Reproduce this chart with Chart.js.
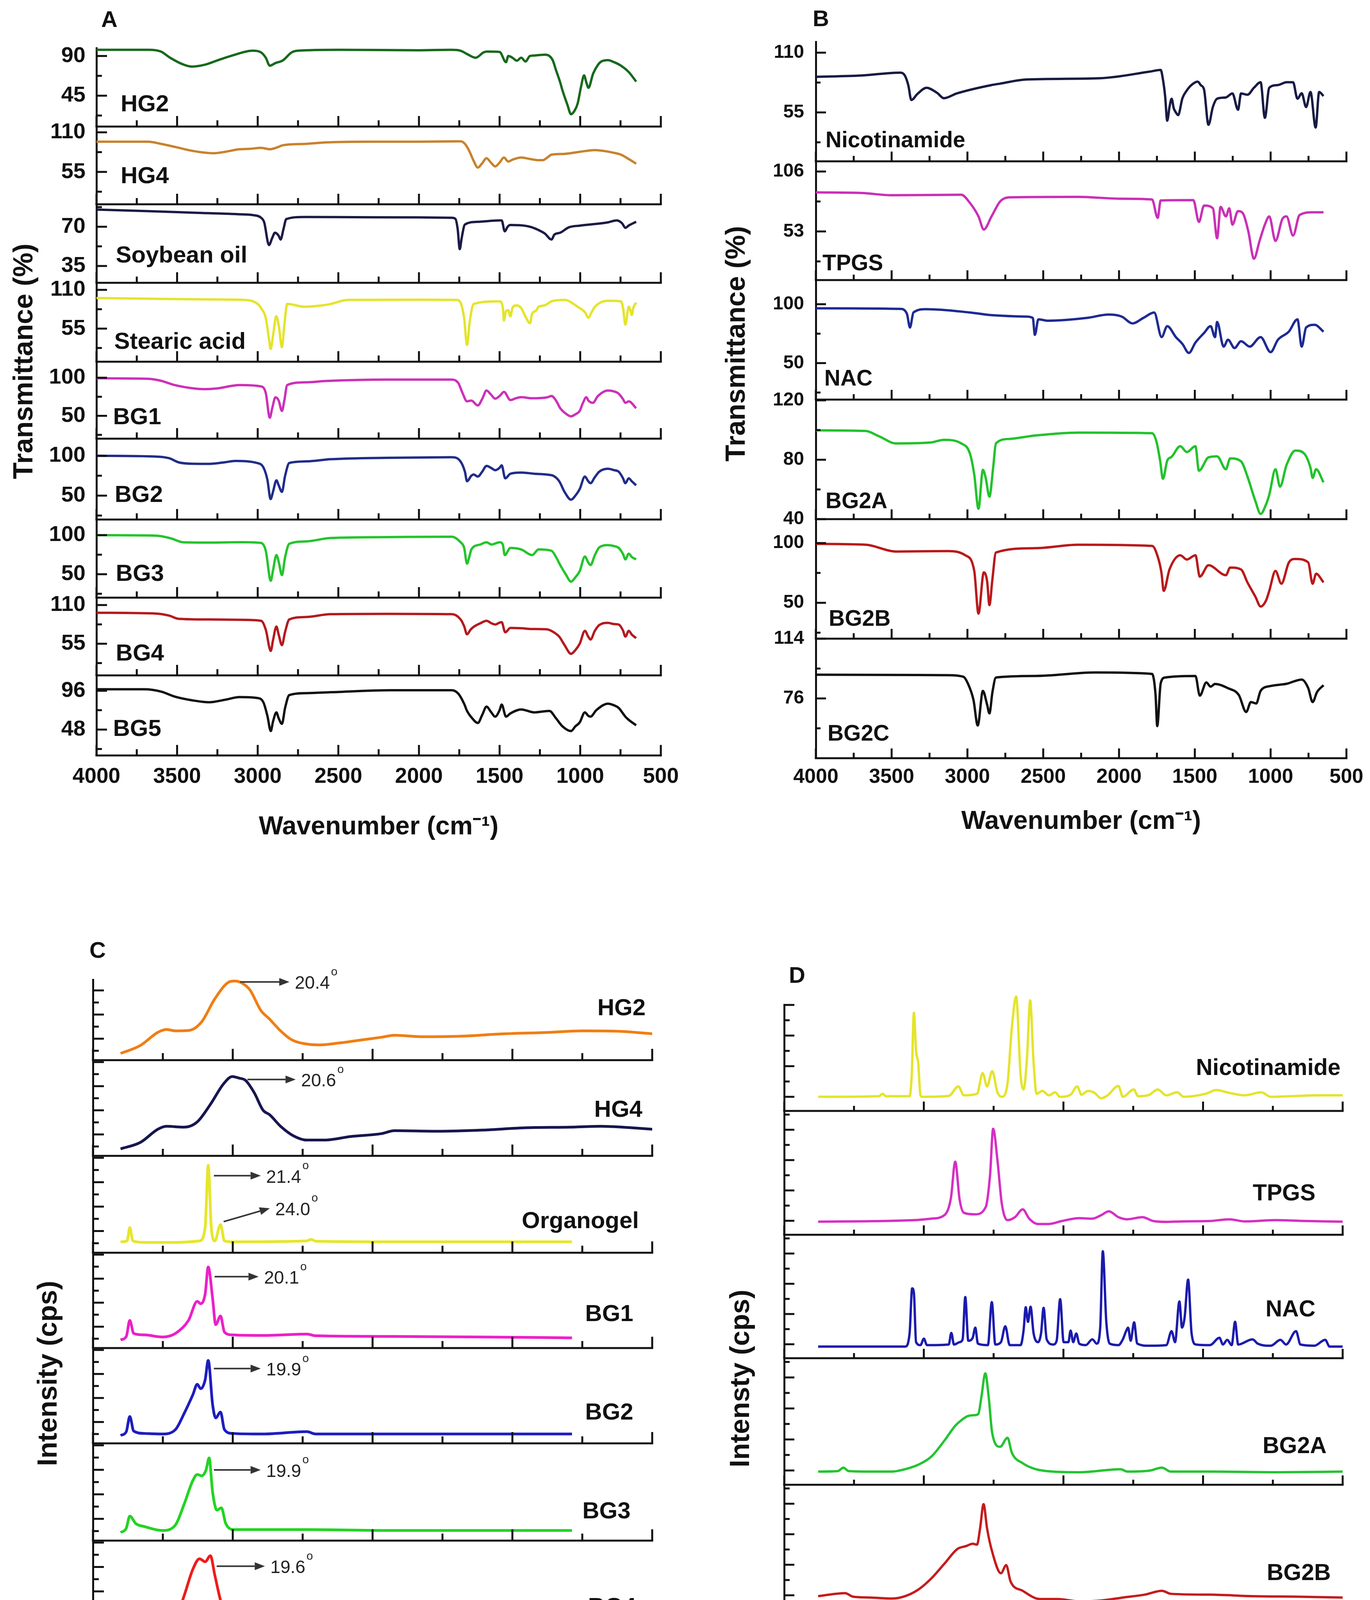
<!DOCTYPE html>
<html>
<head>
<meta charset="utf-8">
<script src="https://cdn.jsdelivr.net/npm/chart.js@4.4.1/dist/chart.umd.min.js"></script>
<style>
html, body { margin: 0; padding: 0; background: #fff; }
body { width: 3508px; height: 4673px; position: relative; overflow: hidden; }
.panel { position: absolute; }
</style>
</head>
<body>
<div class="panel" style="left:0;top:0;width:1760px;height:2230px"><canvas id="chartA"></canvas></div>
<div class="panel" style="left:1760px;top:0;width:1748px;height:2230px"><canvas id="chartB"></canvas></div>
<div class="panel" style="left:0;top:2330px;width:1760px;height:2343px"><canvas id="chartC"></canvas></div>
<div class="panel" style="left:1760px;top:2330px;width:1748px;height:2343px"><canvas id="chartD"></canvas></div>
<script>
// ---------- A: FTIR of gels and ingredients, [wavenumber, transmittance %] ----------
const namesA = ['HG2', 'HG4', 'Soybean oil', 'Stearic acid', 'BG1', 'BG2', 'BG3', 'BG4', 'BG5'];
const aHG2 = [[4000,97],[3677,97],[3600,95],[3543,88],[3470,81],[3409,78],[3330,80],[3250,85],[3150,91],[3032,96],[2979,94],[2950,88],[2925,79],[2890,82],[2844,85],[2790,94],[2750,96],[2500,97],[2000,96.5],[1800,97],[1742,96],[1700,92],[1648,88],[1600,94],[1580,95],[1500,94.6],[1460,83],[1446,90],[1420,88],[1393,84.7],[1366,88],[1339,83.8],[1312,90],[1285,90.5],[1258,91],[1218,91.5],[1191,90],[1170,85],[1151,74.5],[1124,60],[1110,51],[1080,35],[1057,24],[1035,28],[1016,36],[995,55],[976,68],[962,60],[949,54],[920,70],[890,80],[869,83.8],[828,85.3],[790,83],[747,79],[700,72],[653,61]];
const aHG4 = [[4000,97],[3680,97],[3600,94],[3500,89],[3400,84],[3274,81],[3200,83],[3113,86.5],[3050,87],[2979,88.4],[2925,86.5],[2880,89],[2844,92],[2700,94],[2575,96],[2300,97],[2000,97],[1742,97.5],[1715,94],[1690,85],[1660,70],[1635,61],[1608,67],[1581,74],[1554,68],[1527,62.6],[1500,68],[1473,75],[1446,69.4],[1420,72],[1366,75],[1312,73],[1258,71.3],[1231,71.3],[1204,75],[1178,78.9],[1100,80],[1000,83],[909,85.3],[850,84],[800,82],[747,78.9],[700,73],[653,66.4]];
const aSoy = [[4000,85.3],[3700,84],[3400,82.5],[3100,81],[3032,80.4],[2979,78],[2960,74],[2930,53.7],[2910,60],[2893,64.7],[2870,62],[2858,58.6],[2840,68],[2823,76.8],[2710,78.7],[2400,78.5],[2000,78.3],[1796,78],[1774,77],[1760,68],[1747,50],[1735,60],[1715,72],[1635,74.4],[1500,75.6],[1487,75.6],[1468,65.9],[1450,70],[1433,71.5],[1339,70.8],[1300,69.5],[1258,67],[1220,64],[1178,58.6],[1160,63],[1124,64.7],[1070,69.5],[1000,71],[828,73.9],[774,75.6],[740,73],[720,69],[700,71],[653,74.4]];
const aStearic = [[4000,98.4],[3700,97.5],[3300,96.5],[3086,95.7],[3000,90],[2979,84],[2950,70],[2930,40],[2920,26],[2905,45],[2885,72.4],[2870,60],[2850,28.7],[2835,60],[2817,90],[2710,86],[2600,88],[2548,90],[2441,95.7],[2000,96],[1769,95.7],[1742,91.8],[1720,70],[1702,31.8],[1685,65],[1661,90],[1500,93.7],[1480,85],[1473,66.6],[1460,80],[1446,81],[1433,72.4],[1419,85],[1393,88],[1366,84],[1339,72],[1312,62.7],[1298,76],[1272,81],[1258,86],[1220,88],[1178,93.7],[1097,95.7],[1016,86],[970,78],[949,70.5],[930,78],[909,86],[828,94.5],[747,93.7],[735,85],[720,60.8],[705,80],[699,86],[690,82],[680,74.4],[670,85],[653,91.8]];
const aBG1 = [[4000,99.3],[3677,98.6],[3600,96],[3516,90.4],[3400,86],[3328,85],[3250,86],[3113,90.4],[2979,88.6],[2950,80],[2925,47.5],[2910,60],[2890,74.3],[2870,70],[2850,56.4],[2835,70],[2817,90.4],[2700,94],[2575,95.7],[2200,97.5],[1796,97.5],[1756,93],[1730,80],[1702,69],[1675,70],[1635,63.6],[1608,72],[1581,83.2],[1554,78],[1527,72.5],[1500,76],[1473,81.4],[1433,70.7],[1400,73],[1366,74.5],[1300,73],[1204,74.3],[1178,76],[1150,70],[1124,60],[1090,53],[1057,49.3],[1030,52],[1003,56.4],[985,66],[962,74.3],[949,70],[922,67],[890,76],[828,83.2],[790,82],[761,79],[735,72],[720,67],[699,69],[653,60]];
const aBG2 = [[4000,100],[3624,99],[3550,97],[3489,91.7],[3400,90],[3301,89.9],[3200,92],[3140,93.5],[3005,91],[2965,85.5],[2940,70],[2920,45.7],[2905,55],[2884,69.2],[2870,63],[2850,54.7],[2830,75],[2804,91],[2700,93],[2548,95.7],[2200,97.5],[1796,98.2],[1742,92.8],[1715,80],[1702,68.1],[1675,75],[1661,76.5],[1635,73.9],[1608,80],[1581,87.3],[1554,85],[1527,81.9],[1500,85],[1487,88],[1465,71.7],[1433,77.5],[1366,79],[1285,77.5],[1204,76.4],[1164,74.6],[1130,68],[1097,54.7],[1057,44.9],[1030,50],[1003,58.3],[971,73.9],[950,68],[936,65.6],[910,73],[882,80],[828,83.7],[790,82],[761,80],[735,72],[720,65.6],[699,71.7],[680,68],[653,63]];
const aBG3 = [[4000,100],[3624,99.3],[3540,96],[3462,90.9],[3300,90.5],[3100,91],[2979,90],[2950,80],[2919,41.6],[2905,55],[2884,74.5],[2870,66],[2850,48.9],[2830,72],[2804,89],[2700,92],[2548,96.4],[2200,97.5],[1796,98],[1742,90.9],[1720,84],[1702,63.5],[1688,72],[1675,81.7],[1620,88],[1581,90.9],[1550,88],[1500,90.9],[1480,88],[1468,74.5],[1433,83.6],[1366,81.7],[1298,74.5],[1258,81.7],[1178,80],[1150,72],[1124,61.7],[1090,50],[1057,40.5],[1030,46],[1003,54],[971,72.6],[950,65],[936,61.7],[910,74],[882,84.3],[828,87.2],[790,86],[761,83.6],[735,76],[720,69],[699,76.3],[680,72],[653,69]];
const aBG4 = [[4000,99],[3624,97.8],[3550,95],[3489,90.4],[3300,89.5],[3100,89],[2979,87.6],[2950,75],[2919,44.8],[2905,60],[2884,79.4],[2870,68],[2850,53],[2830,72],[2804,89.6],[2700,93],[2548,97],[2200,97.5],[1796,97],[1742,89.6],[1720,80],[1702,68.4],[1680,75],[1661,79],[1620,84],[1581,87.6],[1550,84],[1527,82.3],[1500,85],[1487,85.6],[1465,71.3],[1433,77.5],[1366,77],[1300,76],[1204,75.4],[1164,71.3],[1130,65],[1097,53],[1057,40.7],[1030,46],[1003,55],[971,73.3],[950,65],[936,61],[910,73],[882,81.5],[828,84.7],[790,83],[761,82.3],[735,74],[720,65.2],[699,73.3],[680,68],[653,63]];
const aBG5 = [[4000,97.8],[3704,97.8],[3600,95],[3516,88.9],[3400,84],[3301,81.8],[3200,85],[3113,88.2],[3005,87.1],[2965,81.8],[2940,65],[2919,46.2],[2905,58],[2884,69.3],[2870,62],[2850,55.1],[2830,75],[2804,90.7],[2700,93],[2548,94.2],[2172,96.7],[1796,96.7],[1756,92.4],[1720,80],[1702,71.1],[1670,62],[1635,56.2],[1608,66],[1581,76.4],[1554,70],[1527,64],[1500,72],[1487,78.9],[1460,64],[1433,68],[1366,72.9],[1285,69.3],[1191,71.1],[1151,62.2],[1110,52],[1057,46.2],[1030,52],[1003,56.9],[971,69.3],[950,65],[936,64],[900,72],[828,80],[790,78],[761,74.7],[735,68],[720,64],[699,60],[653,53.3]];
const yMinA = [10, 10, 20, 8, 20, 20, 20, 10, 16];
const yMaxA = [99, 118, 90, 120, 121, 121.5, 120, 120.5, 115];
const yTicksA = [[22.5,45,67.5,90],[27.5,55,82.5,110],[35,52.5,70,87.5],[27.5,55,82.5,110],[25,50,75,100],[25,50,75,100],[25,50,75,100],[27.5,55,82.5,110],[24,48,72,96]];
const yLabelsA = [[45,90],[55,110],[35,70],[55,110],[50,100],[50,100],[50,100],[55,110],[48,96]];
const labelAtA = [[3850,34.7],[3850,48.3],[3880,44],[3890,35.6],[3897,47.4],[3887,50],[3880,50],[3880,40.5],[3897,48]];

// ---------- B: FTIR of actives and loaded gels ----------
const namesB = ['Nicotinamide', 'TPGS', 'NAC', 'BG2A', 'BG2B', 'BG2C'];
const bNic = [[4000,87.8],[3699,89],[3442,91.6],[3413,89],[3390,80],[3370,66.4],[3330,72],[3270,77.7],[3200,73],[3156,68.1],[3070,72.5],[2841,80.2],[2784,81.5],[2612,85.3],[2125,86.5],[1800,92.5],[1725,94.1],[1710,85],[1696,70.1],[1682,47.4],[1667,60],[1653,67.6],[1639,58.8],[1625,55],[1610,52.5],[1582,68],[1553,75.2],[1524,80],[1481,83.3],[1460,80],[1439,76],[1410,43.6],[1381,60],[1353,67.6],[1295,68.8],[1252,72.5],[1215,57.5],[1195,72.5],[1153,71.3],[1110,77.7],[1066,82.8],[1038,50],[1009,77.7],[952,80.2],[895,82.8],[852,82.8],[823,67.6],[795,72.6],[766,60],[737,73.8],[703,41.1],[680,73.8],[651,70.1]];
const bTPGS = [[4000,87.5],[3699,87],[3499,85],[3041,85.5],[2984,78.3],[2927,66.3],[2892,54.7],[2841,66.3],[2784,79.5],[2726,83.1],[2268,83.6],[1982,81.9],[1782,81.2],[1745,65],[1725,80.4],[1510,80.7],[1473,61.4],[1439,75.9],[1381,73.5],[1353,47],[1330,74.7],[1295,66.3],[1273,73.5],[1252,59],[1215,71],[1181,68.6],[1147,53],[1110,28.9],[1073,44.6],[1038,59],[1009,66.3],[968,44.6],[923,63.8],[895,66.3],[852,49.4],[809,67.5],[723,69.9],[651,69.9]];
const bNAC = [[4000,96.5],[3442,96],[3399,91.8],[3379,80.2],[3356,93],[3270,95.8],[2984,93],[2841,90.7],[2612,89.5],[2569,88.4],[2555,74],[2532,87.2],[2469,86],[2211,88.4],[2068,91.2],[1982,89.5],[1911,83.7],[1839,88.4],[1768,93],[1719,72.1],[1682,81.4],[1625,72.1],[1582,66.3],[1539,58.6],[1496,67.4],[1439,75.6],[1396,81.4],[1367,72.1],[1353,84.9],[1310,64],[1281,69.8],[1238,62.8],[1195,68.6],[1138,64],[1066,72.1],[1000,59.3],[952,69.8],[880,76.7],[823,87.2],[795,64],[766,80.2],[709,82.5],[651,76.7]];
const bBG2A = [[4000,99.8],[3671,99.4],[3585,95.9],[3471,91],[3242,91.6],[3156,93.4],[3041,91],[2984,84.3],[2955,70],[2927,47],[2898,73.2],[2880,68],[2855,55.1],[2830,75],[2812,91],[2726,94],[2555,96.3],[2268,98.3],[1782,97.9],[1753,92.2],[1730,80],[1710,67.2],[1682,79.4],[1653,82],[1596,89.1],[1553,85.2],[1496,89.1],[1473,72.6],[1410,81.6],[1353,82.3],[1295,73.6],[1267,80.9],[1195,78.9],[1153,68.7],[1100,52],[1066,43.5],[1030,50],[1009,56.4],[968,73.6],[938,61.9],[895,76.5],[837,86.2],[780,84.3],[737,74.6],[723,67.8],[700,73.6],[651,64.8]];
const bBG2B = [[4000,99.3],[3671,98.6],[3471,92.9],[3127,93.3],[3013,89.7],[2955,76.7],[2927,41],[2892,75.5],[2870,68],[2855,48.1],[2835,70],[2812,92.1],[2555,95.7],[2268,98.6],[1782,97.6],[1739,86.2],[1720,75],[1705,60],[1667,78],[1596,89.8],[1553,86.2],[1496,89.8],[1467,71.9],[1410,81.4],[1295,73.1],[1267,79.5],[1195,77.9],[1153,67.1],[1100,55],[1066,46.9],[1030,52],[1009,60],[968,76.7],[929,66],[880,83.6],[837,86.7],[752,83.8],[723,66],[700,74.3],[651,67.1]];
const bBG2C = [[4000,91.1],[3127,90.8],[3027,89.8],[2998,85.7],[2960,75],[2932,58.8],[2898,80.8],[2870,72],[2855,66.5],[2835,80],[2812,89.3],[2555,90.3],[2154,92.5],[1782,91.6],[1759,78.2],[1748,58.4],[1725,85.7],[1696,89.3],[1496,90.3],[1467,77.8],[1424,86.2],[1396,83.5],[1367,85.2],[1281,82.5],[1210,78.2],[1161,67.4],[1130,73.7],[1095,72.8],[1066,80.8],[1000,83.9],[895,85.3],[795,88],[752,82.6],[723,73.7],[694,80],[651,84.4]];
const yMinB = [10, 10, 19, 40, 20, 38];
const yMaxB = [120, 115, 120.5, 120.5, 120, 114];
const yTicksB = [[27.5,55,82.5,110],[26.5,53,79.5,106],[25,50,75,100],[40,60,80,100,120],[25,50,75,100],[57,76,95,114]];
const yLabelsB = [[55,110],[53,106],[50,100],[40,80,120],[50,100],[76,114]];
const labelAtB = [[3936,28.7],[3956,24],[3944,36],[3936,51.6],[3915,36],[3923,53]];

// ---------- C: XRD of gels, [2theta, intensity (arb.)] ----------
const namesC = ['HG2', 'HG4', 'Organogel', 'BG1', 'BG2', 'BG3', 'BG4', 'BG5'];
const cHG2 = [[3.95,7],[6.77,15.3],[9.28,29],[10.53,32],[11.79,30.6],[13.67,31],[15.55,40],[17.43,64],[19.31,81],[20.25,82.6],[21.19,81],[22.45,73.4],[24.01,52],[25.27,42.8],[26.84,30.6],[28.4,21.4],[30.6,16.8],[32.48,15.9],[34.99,17.7],[38.75,21.4],[41.26,23.9],[43.14,26],[46.9,24.5],[52.54,25],[58.81,27.5],[65.08,29],[70.1,30.6],[75.7,30],[80,27.5]];
const cHG4 = [[3.95,7.3],[6.77,14],[9.28,27.8],[10.53,30.9],[13.04,30],[14.92,35.5],[16.8,53.8],[18.68,75.2],[19.94,82.9],[20.88,81.3],[21.82,78.9],[23.07,66],[24.33,47.7],[25.27,43],[26.84,30.9],[28.72,20.8],[30.6,16.5],[33.11,16.5],[36.87,20.2],[41.26,23.2],[43.14,26.3],[49.41,25.7],[55.68,26.9],[61.95,29.4],[68.22,30],[72.6,30.9],[77,29.4],[80,27.8]];
const cOrg = [[3.95,11.3],[4.89,12.2],[5.27,26],[5.71,12.2],[7.4,10.7],[11.79,10.7],[15.24,12.2],[16.05,26],[16.49,90.2],[16.93,26],[17.43,12.2],[18.25,29],[18.81,12.2],[19.94,11.3],[30.6,12.2],[31.22,13.8],[31.85,11.9],[43.14,11.3],[55.68,11.3],[68.53,11.3]];
const cBG1 = [[3.95,8.6],[4.77,12.2],[5.27,29],[5.83,15.3],[7.4,13.8],[9.91,11.6],[11.79,15.3],[13.67,29],[14.92,49],[15.42,46.5],[16.05,56.6],[16.49,85],[17.12,52],[17.56,24.5],[18.25,33.6],[18.81,16.8],[19.94,13.8],[24.33,13.2],[30.6,14.7],[31.85,12.9],[43.14,12.2],[55.68,11.6],[68.53,10.7]];
const cBG2 = [[3.95,8.3],[4.77,12.3],[5.27,28.2],[5.83,12.9],[7.4,10.4],[9.91,9.8],[11.79,14.4],[13.04,31.3],[14.3,51.2],[14.92,62],[15.42,57.4],[16.05,66.6],[16.49,87],[17.12,40.5],[17.56,26.7],[18.25,32.8],[18.81,14.4],[19.94,10.4],[24.33,9.8],[30.6,12.3],[31.85,9.8],[43.14,9.8],[55.68,9.8],[68.53,9.8]];
const cBG3 = [[3.95,8.3],[4.77,12.9],[5.27,25.2],[6.14,17.5],[7.4,14.4],[9.91,10.4],[11.79,16],[13.04,37.4],[14.3,62],[14.92,68],[15.55,66.6],[16.18,72.7],[16.62,85],[17.12,49.7],[17.74,31.3],[18.37,33.7],[19,17.5],[20.25,11.3],[24.33,11.3],[30.6,11.3],[43.14,10.4],[55.68,10.4],[68.53,10.4]];
const cBG4 = [[3.95,12.9],[4.89,18.4],[5.83,22.4],[6.77,20.9],[8.34,13.8],[9.91,11.3],[11.79,18.4],[13.04,43],[14.3,70.6],[15.24,81.3],[16.05,78.2],[16.8,84.4],[17.43,64.4],[18.37,35.3],[19.31,21.5],[20.57,13.8],[24.33,12.3],[30.6,12.9],[43.14,12.3],[55.68,12.3],[68.53,11.3]];
const cBG5 = [[3.95,12.3],[4.89,16.3],[5.52,13.2],[8.65,11],[10.85,14.7],[11.79,27],[13.04,54.6],[14.3,77.6],[15.05,83.7],[15.86,76],[16.8,57.7],[18.06,33.1],[19.31,17.8],[20.57,13.2],[24.33,12.3],[30.6,11.7],[43.14,11.7],[55.68,11],[68.53,11]];
const yMaxC = [84, 100, 100, 100, 100, 100, 100, 100];
const labelAtC = [[79.05,53.7],[78.6,47.6],[78.1,32],[77.3,35],[77.3,31.7],[76.9,29.7],[77.7,30.9],[77.5,30]];
// peak call-outs: strip, text, arrow from (x0,y0) to (x1,y1)
const peaksC = [
  {s: 0, t: '20.4', x0: 21.07, y0: 81.7, x1: 28.1, y1: 81.7},
  {s: 1, t: '20.6', x0: 22.1, y0: 79.8, x1: 29.0, y1: 79.8},
  {s: 2, t: '21.4', x0: 17.3, y0: 79.5, x1: 24.0, y1: 79.5},
  {s: 2, t: '24.0', x0: 18.7, y0: 32.1, x1: 25.3, y1: 45.9},
  {s: 3, t: '20.1', x0: 17.4, y0: 74.9, x1: 23.7, y1: 74.9},
  {s: 4, t: '19.9', x0: 17.3, y0: 78.5, x1: 24.0, y1: 78.5},
  {s: 5, t: '19.9', x0: 17.3, y0: 72.7, x1: 24.0, y1: 72.7},
  {s: 6, t: '19.6', x0: 17.7, y0: 73.6, x1: 24.6, y1: 73.6},
  {s: 7, t: '19.5', x0: 15.9, y0: 82.8, x1: 22.8, y1: 82.8}
];

// ---------- D: XRD of actives and loaded gels ----------
const namesD = ['Nicotinamide', 'TPGS', 'NAC', 'BG2A', 'BG2B', 'BG2C'];
const dNic = [[4.86,11.3],[13.59,11.8],[14.09,13.7],[14.59,11.8],[17.96,11.8],[18.27,29],[18.58,78.5],[18.89,47.9],[19.2,38.4],[19.52,12.5],[19.83,11.3],[23.57,12],[24.94,19.6],[25.75,12.5],[27.62,13.7],[28.43,30.2],[29.06,19.6],[29.8,31.8],[30.55,14.9],[31.18,11.3],[31.99,21.9],[32.61,66.7],[33.23,91.5],[33.86,29],[34.29,17.2],[34.79,43.2],[35.23,88.4],[35.73,38.4],[36.16,13.7],[36.97,16],[37.91,12.5],[38.84,14.9],[39.47,11.3],[41.03,13],[41.96,19.6],[42.59,13],[43.52,16],[44.46,14.4],[45.39,10.1],[46.33,12.5],[47.88,20],[48.51,11.3],[50.07,17.2],[50.69,11.8],[52.25,12.8],[53.5,17.2],[54.74,12.5],[56.3,14.9],[57.24,11.3],[60.35,13.7],[61.91,16.7],[63.78,14.4],[65.97,12.5],[68.34,14.9],[69.71,11.3],[73.45,12],[76.57,12.5],[80,12.5]];
const dTPGS = [[4.86,10.6],[14.22,11.1],[18.58,11.8],[21.07,13],[22.94,15.8],[23.88,29.5],[24.5,59],[25.13,28.3],[25.75,17.7],[27.31,16.5],[28.87,22.4],[29.49,48.3],[29.93,85.6],[30.55,60.1],[31.18,24.8],[31.99,11.8],[33.05,14.2],[34.17,20.5],[35.1,13],[36.35,8.7],[37.91,8.7],[39.78,11.1],[42.27,13.4],[44.14,13],[45.39,15.8],[46.51,18.9],[47.88,14.2],[49.13,12.5],[51.31,14.2],[52.87,11.1],[54.74,10.4],[57.24,10.8],[60.98,11.1],[63.78,12.5],[65.97,10.8],[70.33,11.8],[74.7,11.1],[80,10.6]];
const dNAC = [[4.86,9.4],[17.33,9.4],[17.96,20],[18.33,56.6],[18.58,53],[18.89,13],[19.52,10.6],[20.01,15.8],[20.45,10.6],[23.57,11.1],[23.94,20.5],[24.32,11.1],[25.13,13],[25.56,15.3],[25.94,49.5],[26.37,14.2],[27,16.5],[27.37,24.8],[27.75,11.8],[29.18,10.6],[29.74,45.5],[30.24,11.1],[31.05,13],[31.67,25.9],[32.3,10.6],[33.86,10.6],[34.29,22.4],[34.6,41.3],[34.92,29.5],[35.29,41.7],[35.73,20],[36.35,13],[36.79,20],[37.16,40.8],[37.6,15.3],[38.53,11.1],[39.03,14.2],[39.53,47.9],[40.03,13],[40.71,13],[41.03,22.4],[41.4,13],[41.84,20],[42.27,11.8],[43.21,10.6],[44.14,15.3],[44.77,11.8],[45.27,24.8],[45.64,86.6],[46.14,29.5],[46.64,11.8],[47.88,10.6],[48.51,15.3],[49.01,22.4],[49.26,24.8],[49.63,14.2],[50.13,29],[50.57,11.8],[52.25,10.1],[54.74,10.6],[55.49,21.9],[55.99,13],[56.61,46],[56.99,24.8],[57.36,33],[57.86,63.7],[58.36,20],[58.98,11.1],[60.98,10.6],[62.35,16.5],[62.85,11.1],[63.47,14.9],[64.1,10.6],[64.59,29.5],[65.03,11.1],[67.09,15.3],[67.84,11.8],[69.71,10.1],[71.08,14.9],[71.89,11.1],[73.32,21.9],[73.95,11.1],[75.94,10.1],[77.5,14.9],[78.13,9.4],[80,9.4]];
const dBG2A = [[4.86,10.4],[7.67,10.8],[8.48,13.5],[9.23,10.8],[12.35,10.4],[15.46,10.4],[17.33,12.3],[19.2,15.8],[21.07,22.2],[22.94,34.8],[24.5,46.6],[25.44,51.3],[26.37,54.4],[27.31,55],[27.81,56],[28.24,69],[28.81,88],[29.3,69],[29.8,40.7],[30.93,30],[31.99,37.1],[32.61,25.3],[34.17,17],[36.04,12.3],[38.53,10.4],[42.27,9.9],[48.2,12.3],[49.13,10.4],[52.25,11.1],[54.12,13.5],[55.37,10.4],[60.98,10.4],[70.33,9.9],[80,10.4]];
const dBG2B = [[4.86,10.6],[8.73,13],[9.85,10.2],[12.35,9.5],[15.46,8.7],[17.33,10.6],[19.2,15.8],[21.07,24.8],[22.94,36.6],[24.82,48.5],[26.06,50.8],[27,52.7],[27.62,52],[28.06,65],[28.56,84.4],[29.06,65],[29.8,46.1],[31.05,29],[31.8,35.5],[32.42,22.5],[34.17,14.9],[36.66,8.3],[39.16,8.3],[42.27,6.4],[45.39,7.1],[48.51,9.5],[51.63,11.8],[54.12,14.9],[55.37,12.5],[60.98,11.8],[67.21,10.6],[73.45,10.2],[80,9.5]];
const dBG2C = [[4.86,11.1],[8.73,13.5],[9.85,11.1],[13.59,10.4],[16.71,11.8],[18.58,14.7],[20.45,24.1],[22.32,38.3],[24.19,52.5],[25.44,58.4],[26.69,60.8],[27.81,62],[28.24,71.4],[28.62,85.1],[29.18,78.5],[29.8,52.5],[30.93,38.3],[31.67,43],[32.61,33.6],[34.17,24.1],[36.04,18.2],[38.53,13.5],[42.27,11.8],[44.14,10.4],[47.26,11.8],[50.38,13.5],[54.12,15.1],[56.61,13.5],[60.98,12.3],[67.21,11.8],[73.45,11.1],[80,11.1]];
const yMaxD = [85, 100, 100, 100, 100, 100];
const labelAtD = [[79.7,33.9],[76.1,32.9],[76.1,38.9],[77.7,30.1],[78.3,28.5],[79.0,25.4]];

const xLabelsFTIR = [4000, 3500, 3000, 2500, 2000, 1500, 1000, 500];
const xLabelsXRD = [0, 20, 40, 60, 80];

const FONT = '"Liberation Sans", Arial, Helvetica, sans-serif';
Chart.defaults.font.family = FONT;
Chart.defaults.color = '#111';

// stacked strips: separators, inward ticks, sample names, call-outs, y title, panel letter
const stripPlugin = {
  id: 'strips',
  afterDatasetsDraw(chart, args, o) {
    const ctx = chart.ctx, ca = chart.chartArea, xs = chart.scales.x;
    ctx.save();
    ctx.strokeStyle = '#111';
    ctx.fillStyle = '#111';
    ctx.lineWidth = 5;
    o.yTickList.forEach((list, i) => {
      const ys = chart.scales['y' + i];
      const yb = ys.bottom;
      ctx.beginPath(); ctx.moveTo(ca.left - 2.5, yb); ctx.lineTo(ca.right + 2.5, yb); ctx.stroke();
      o.xTickList.forEach(t => {
        const px = xs.getPixelForValue(t.v);
        ctx.beginPath(); ctx.moveTo(px, yb); ctx.lineTo(px, yb - (t.major ? o.xLong : o.xShort)); ctx.stroke();
      });
      list.forEach(t => {
        const py = ys.getPixelForValue(t.v);
        ctx.beginPath(); ctx.moveTo(ca.left, py); ctx.lineTo(ca.left + (t.major ? o.yLong : o.yShort), py); ctx.stroke();
      });
      const lp = o.labelAt[i];
      ctx.font = 'bold ' + o.labelFont + 'px ' + FONT;
      ctx.textAlign = o.labelAlign;
      ctx.textBaseline = 'middle';
      ctx.fillText(o.names[i], xs.getPixelForValue(lp[0]), ys.getPixelForValue(lp[1]));
    });

    (o.peaks || []).forEach(a => {
      const ys = chart.scales['y' + a.s];
      const x0 = xs.getPixelForValue(a.x0), y0 = ys.getPixelForValue(a.y0);
      const x1 = xs.getPixelForValue(a.x1), y1 = ys.getPixelForValue(a.y1);
      const ang = Math.atan2(y1 - y0, x1 - x0), hl = 26, hw = 10;
      const bx = x1 - hl * Math.cos(ang), by = y1 - hl * Math.sin(ang);
      ctx.strokeStyle = '#333'; ctx.fillStyle = '#333'; ctx.lineWidth = 4;
      ctx.beginPath(); ctx.moveTo(x0, y0); ctx.lineTo(bx, by); ctx.stroke();
      ctx.beginPath();
      ctx.moveTo(x1, y1);
      ctx.lineTo(bx - hw * Math.sin(ang), by + hw * Math.cos(ang));
      ctx.lineTo(bx + hw * Math.sin(ang), by - hw * Math.cos(ang));
      ctx.closePath(); ctx.fill();
      ctx.fillStyle = '#222';
      ctx.font = '46px ' + FONT;
      ctx.textAlign = 'left'; ctx.textBaseline = 'middle';
      const tx = x1 + 14, ty = y1 + 5;
      ctx.fillText(a.t, tx, ty);
      const w = ctx.measureText(a.t).width;
      ctx.font = '30px ' + FONT;
      ctx.fillText('o', tx + w + 3, ty - 30);
    });

    ctx.fillStyle = '#111';
    ctx.save();
    ctx.translate(o.yTitleX, o.yTitleY);
    ctx.rotate(-Math.PI / 2);
    ctx.font = 'bold 70px ' + FONT;
    ctx.textAlign = 'center'; ctx.textBaseline = 'middle';
    ctx.fillText(o.yTitle, 0, 0);
    ctx.restore();
    ctx.font = 'bold 58px ' + FONT;
    ctx.textAlign = 'center'; ctx.textBaseline = 'middle';
    ctx.fillText(o.letter, o.letterX, o.letterY);
    ctx.restore();
  }
};

function xrdTicks(max, t) {
  const out = [];
  for (let k = 0; ; k++) {
    const v = t.start + k * t.step;
    if (v > max) break;
    out.push({v: v, major: k % 2 === t.parity});
  }
  return out;
}

function buildPanel(id, p) {
  const n = p.series.length;
  const yTickList = p.series.map((_, i) => p.yTicks
    ? p.yTicks[i].map(v => ({v: v, major: p.yLabels[i].includes(v)}))
    : xrdTicks(p.yMax[i], p.xrdTick));
  const xTickList = [];
  for (let v = p.xMin; v <= p.xMax; v += p.xMinor) xTickList.push({v: v, major: v % p.xMajor === 0});

  const scales = {
    x: {
      type: 'linear', position: 'bottom', min: p.xMin, max: p.xMax, reverse: !!p.reverse,
      grid: {display: false, drawTicks: false},
      border: {display: false},
      afterBuildTicks: ax => { ax.ticks = p.xLabels.map(v => ({value: v})); },
      ticks: {autoSkip: false, maxRotation: 0, padding: p.xPad, color: '#111',
              font: {size: p.xFont, weight: 'bold'}, callback: v => String(v)},
      title: {display: true, text: p.xTitle, color: '#111', font: {size: 66, weight: 'bold'},
              padding: {top: 0, bottom: p.xTitlePad}},
      afterFit: ax => { ax.height = p.xHeight; }
    }
  };
  p.series.forEach((s, i) => {
    scales['y' + i] = {
      type: 'linear', position: 'left', stack: 'strips', stackWeight: p.weights[i], weight: n - i,
      min: p.yMin ? p.yMin[i] : 0, max: p.yMax[i],
      grid: {display: false, drawTicks: false},
      border: {display: true, color: '#111', width: 5},
      afterBuildTicks: ax => { ax.ticks = yTickList[i].map(t => ({value: t.v})); },
      ticks: {display: !!p.yTicks, autoSkip: false, padding: p.yPad || 0, color: '#111',
              font: {size: p.yFont || 40, weight: 'bold'},
              callback: v => (p.yLabels && p.yLabels[i].includes(v)) ? String(v) : ''},
      afterFit: ax => { ax.width = p.yWidth; }
    };
  });

  new Chart(document.getElementById(id), {
    type: 'line',
    data: {
      datasets: p.series.map((s, i) => ({
        label: p.names[i],
        data: s.map(([x, y]) => ({x: x, y: y})),
        yAxisID: 'y' + i,
        borderColor: p.colors[i],
        borderWidth: p.lineW,
        pointRadius: 0,
        fill: false,
        cubicInterpolationMode: 'monotone',
        clip: p.clip
      }))
    },
    options: {
      responsive: true,
      maintainAspectRatio: false,
      animation: false,
      layout: {padding: p.padding},
      plugins: {
        legend: {display: false},
        tooltip: {enabled: false},
        strips: {
          yTickList: yTickList, xTickList: xTickList, names: p.names, labelAt: p.labelAt,
          labelAlign: p.labelAlign, labelFont: p.labelFont, peaks: p.peaks,
          xLong: p.xLong, xShort: p.xShort, yLong: p.yLong, yShort: p.yShort,
          yTitle: p.yTitle, yTitleX: p.yTitleX, yTitleY: p.yTitleY,
          letter: p.letter, letterX: p.letterX, letterY: p.letterY
        }
      },
      scales: scales
    },
    plugins: [stripPlugin]
  });
}

buildPanel('chartA', {
  names: namesA,
  series: [aHG2, aHG4, aSoy, aStearic, aBG1, aBG2, aBG3, aBG4, aBG5],
  colors: ['#17691c', '#c9822c', '#1b1b45', '#e4e42c', '#cc30b9', '#202c88', '#24c42c', '#b31a1f', '#111111'],
  weights: [201, 199, 201, 202, 197, 207, 200, 199, 205],
  yMin: yMinA, yMax: yMaxA, yTicks: yTicksA, yLabels: yLabelsA,
  yFont: 56, yPad: 28, yWidth: 247, lineW: 6,
  xMin: 500, xMax: 4000, reverse: true, xMinor: 250, xMajor: 500, xLabels: xLabelsFTIR,
  xFont: 55, xPad: 22, xHeight: 296, xTitlePad: 73, xTitle: 'Wavenumber (cm\u207B\u00B9)',
  xLong: 27, xShort: 16, yLong: 27, yShort: 14,
  labelAt: labelAtA, labelAlign: 'left', labelFont: 60,
  padding: {top: 123, right: 52, left: 0, bottom: 0},
  yTitle: 'Transmittance (%)', yTitleX: 64, yTitleY: 925,
  letter: 'A', letterX: 280, letterY: 53, clip: undefined
});

buildPanel('chartB', {
  names: namesB,
  series: [bNic, bTPGS, bNAC, bBG2A, bBG2B, bBG2C],
  colors: ['#171b42', '#c930b6', '#1d2a92', '#22c22c', '#b9191a', '#111111'],
  weights: [306, 304, 306, 306, 306, 306],
  yMin: yMinB, yMax: yMaxB, yTicks: yTicksB, yLabels: yLabelsB,
  yFont: 48, yPad: 30, yWidth: 329, lineW: 6,
  xMin: 500, xMax: 4000, reverse: true, xMinor: 250, xMajor: 500, xLabels: xLabelsFTIR,
  xFont: 52, xPad: 17, xHeight: 289, xTitlePad: 87, xTitle: 'Wavenumber (cm\u207B\u00B9)',
  xLong: 25, xShort: 14, yLong: 26, yShort: 12,
  labelAt: labelAtB, labelAlign: 'left', labelFont: 57,
  padding: {top: 107, right: 56, left: 0, bottom: 0},
  yTitle: 'Transmittance (%)', yTitleX: 128, yTitleY: 880,
  letter: 'B', letterX: 342, letterY: 51, clip: undefined
});

buildPanel('chartC', {
  names: namesC,
  series: [cHG2, cHG4, cOrg, cBG1, cBG2, cBG3, cBG4, cBG5],
  colors: ['#f07e14', '#16164f', '#e6e62a', '#ec20c8', '#1d1dbf', '#22d422', '#ee1c1c', '#111111'],
  weights: [206, 245, 248, 244, 244, 249, 248, 247],
  yMax: yMaxC, xrdTick: {start: 9.8, step: 12.6, parity: 1},
  yWidth: 238, lineW: 7,
  xMin: 0, xMax: 80, xMinor: 10, xMajor: 20, xLabels: xLabelsXRD,
  xFont: 50, xPad: 24, xHeight: 234, xTitlePad: 34, xTitle: '2Theta (degrees)',
  xLong: 29, xShort: 18, yLong: 28, yShort: 15,
  labelAt: labelAtC, labelAlign: 'right', labelFont: 60, peaks: peaksC,
  padding: {top: 178, right: 90, left: 0, bottom: 0},
  yTitle: 'Intensity (cps)', yTitleX: 126, yTitleY: 1186,
  letter: 'C', letterX: 250, letterY: 106, clip: undefined
});

buildPanel('chartD', {
  names: namesD,
  series: [dNic, dTPGS, dNAC, dBG2A, dBG2B, dBG2C],
  colors: ['#e4e42a', '#d52fc3', '#1b1bad', '#23c42f', '#c41c1c', '#111111'],
  weights: [272, 317, 316, 324, 319, 322],
  yMax: yMaxD, xrdTick: {start: 11.3, step: 12.25, parity: 0},
  yWidth: 248, lineW: 6,
  xMin: 0, xMax: 80, xMinor: 10, xMajor: 20, xLabels: xLabelsXRD,
  xFont: 54, xPad: 23, xHeight: 231, xTitlePad: 26, xTitle: '2 Theta (degrees)',
  xLong: 24, xShort: 13, yLong: 26, yShort: 14,
  labelAt: labelAtD, labelAlign: 'right', labelFont: 59,
  padding: {top: 242, right: 70, left: 0, bottom: 0},
  yTitle: 'Intensty (cps)', yTitleX: 139, yTitleY: 1199,
  letter: 'D', letterX: 281, letterY: 170, clip: false
});
</script>
</body>
</html>
